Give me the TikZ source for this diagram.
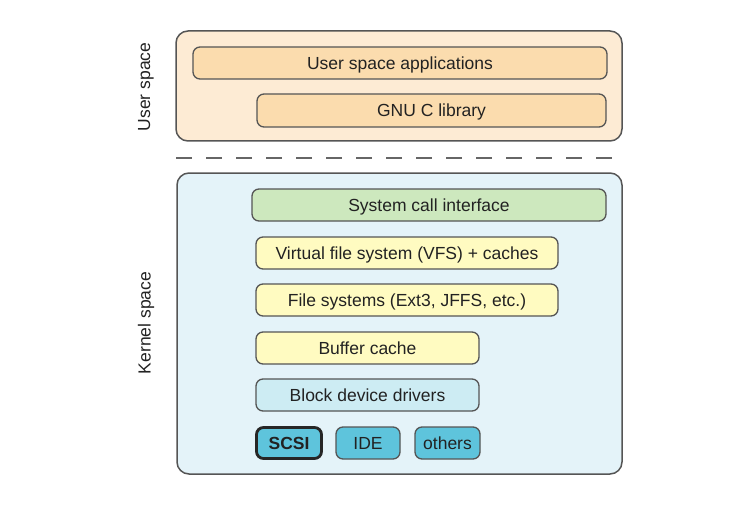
\documentclass[tikz,border=0pt]{standalone}
\usepackage{fontspec}
\setmainfont{Liberation Sans}
\definecolor{userouter}{HTML}{FDEBD4}
\definecolor{userinner}{HTML}{FBDCAE}
\definecolor{kernouter}{HTML}{E4F3F9}
\definecolor{sysgreen}{HTML}{CDE8BE}
\definecolor{fsyellow}{HTML}{FFFBC1}
\definecolor{blockblue}{HTML}{CDECF3}
\definecolor{devblue}{HTML}{5EC4DC}
\definecolor{edge}{HTML}{555555}
\definecolor{txt}{HTML}{222222}
\begin{document}
\begin{tikzpicture}[x=1pt,y=-1pt,
  every node/.style={font=\fontsize{17.5}{20}\selectfont, text=txt, inner sep=0pt, outer sep=0pt},
  outerbox/.style={draw=edge, line width=1.5pt, rounded corners=12pt, anchor=north west},
  layerbox/.style={draw=edge, line width=1.3pt, rounded corners=7pt, anchor=north west, minimum height=32pt, text height=12.5pt, text depth=0pt},
  userlayer/.style={layerbox, fill=userinner},
  sidelabel/.style={rotate=90}]
\useasboundingbox (0,0) rectangle (743,505);
% outer regions
\node[outerbox, fill=userouter, minimum width=446pt, minimum height=110pt] (user) at (176,31) {};
\node[outerbox, fill=kernouter, minimum width=445pt, minimum height=301pt] (kernel) at (177,173) {};
% user space
\node[userlayer, minimum width=414pt] (apps) at (193,47) {User space applications};
\node[userlayer, minimum width=349pt, minimum height=33pt] (glibc) at (257,94) {GNU C library};
% separator
\coordinate (sepL) at (176,158);
\coordinate (sepR) at (612,158);
\draw[draw=edge!90, line width=2pt, dash pattern=on 15.5pt off 14.5pt] (sepL) -- (sepR);
% kernel space
\node[layerbox, fill=sysgreen, minimum width=354pt] (sci) at (252,189) {System call interface};
\node[layerbox, fill=fsyellow, minimum width=302pt] (vfs) at (256,237) {Virtual file system (VFS) + caches};
\node[layerbox, fill=fsyellow, minimum width=302pt] (fs) at (256,284) {File systems (Ext3, JFFS, etc.)};
\node[layerbox, fill=fsyellow, minimum width=223pt] (buf) at (256,332) {Buffer cache};
\node[layerbox, fill=blockblue, minimum width=223pt] (blk) at (256,379) {Block device drivers};
\node[layerbox, fill=devblue, draw=black!85, line width=2.8pt, minimum width=65pt, minimum height=31pt, font=\fontsize{17.5}{20}\selectfont\bfseries] (scsi) at (256.5,427.5) {SCSI};
\node[layerbox, fill=devblue, minimum width=64pt] (ide) at (336,427) {IDE};
\node[layerbox, fill=devblue, minimum width=65pt] (others) at (415,427) {others};
% side labels
\node[sidelabel] (ulabel) at (146,87) {User space};
\node[sidelabel] (klabel) at (146,323) {Kernel space};
\end{tikzpicture}
\end{document}
